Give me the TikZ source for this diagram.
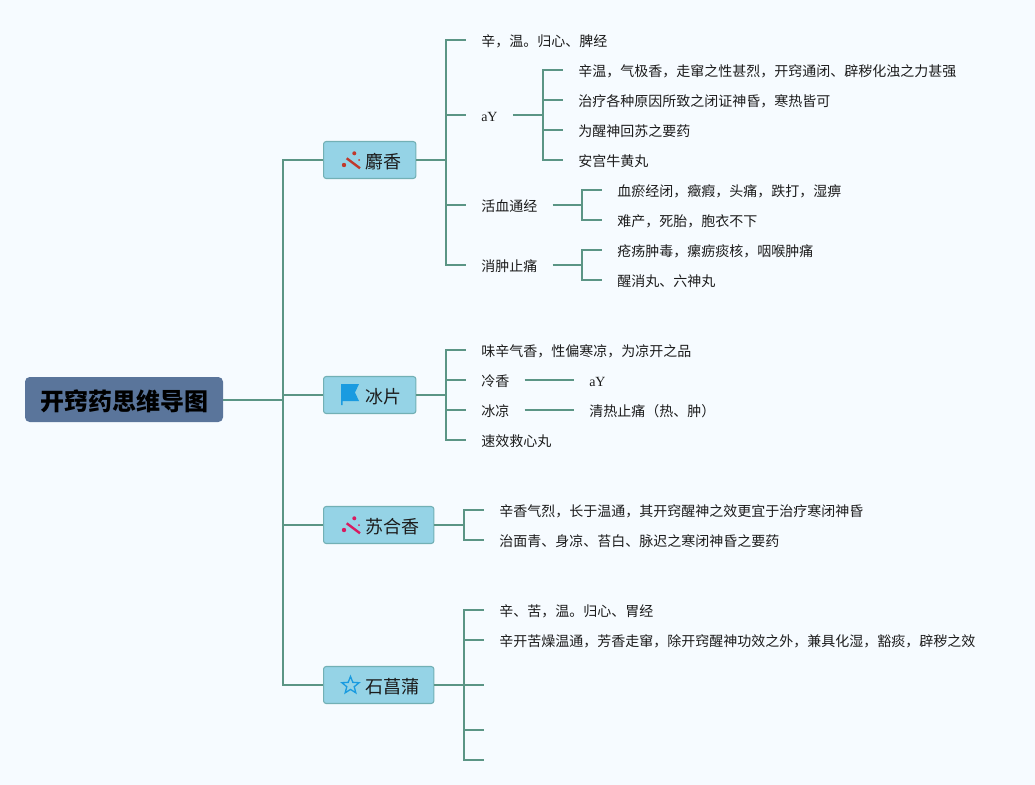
\documentclass[tikz,border=0pt]{standalone}
\usepackage{fontspec}
\setmainfont{Liberation Serif}
\newfontfamily\cjkfont{Noto Sans CJK SC}
\usetikzlibrary{shapes.geometric}
\definecolor{pagebg}{HTML}{F6FBFF}
\definecolor{linkgreen}{HTML}{5B9585}
\definecolor{rootfill}{HTML}{5A759B}
\definecolor{branchfill}{HTML}{95D3E6}
\definecolor{branchedge}{HTML}{72B0B5}
\definecolor{wandred}{HTML}{C0392B}
\definecolor{wandpink}{HTML}{D81B60}
\definecolor{iconblue}{HTML}{1A9BE0}
\definecolor{inkdark}{HTML}{1C1C1C}
\newcommand{\wandicon}[2]{%
  \begin{scope}[shift={(#1)}]
    \draw[#2, line width=1.8pt] (23.7,-1.7) -- (37,8.3);
    \fill[#2] (21,5) circle (2.2) (31.3,-6.7) circle (2) (36,0) circle (1);
  \end{scope}}
\begin{document}
\begin{tikzpicture}[
  x=0.75pt, y=-0.75pt,
  conn/.style={draw=linkgreen, line width=1.5pt},
  rootbox/.style={fill=rootfill, rounded corners=3.5pt, minimum width=148.5pt, minimum height=33.75pt, inner sep=0pt, text=black, text height=17pt, text depth=1pt, font=\cjkfont\bfseries\fontsize{18}{20}\selectfont},
  branchbox/.style={draw=branchedge, fill=branchfill, line width=0.8pt, rounded corners=2pt, anchor=west, minimum height=27.75pt, inner xsep=11pt, inner ysep=0pt, text=inkdark, text height=13pt, text depth=0.5pt, font=\cjkfont\fontsize{13.5}{16}\selectfont},
  leaf/.style={anchor=west, inner xsep=11.25pt, inner ysep=0pt, text=inkdark, text height=10.5pt, text depth=1.5pt, font=\cjkfont\fontsize{10.5}{12}\selectfont},
]
\fill[pagebg] (0,0) rectangle (1035,785);
\useasboundingbox (0,0) rectangle (1035,785);
% root and main branches
\node[rootbox] (root) at (124,399.5) {开窍药思维导图};
\node[branchbox] (shexiang) at (323,160) {\hspace*{20.25pt}麝香};
\node[branchbox] (bingpian) at (323,395) {\hspace*{20.25pt}冰片};
\node[branchbox] (suhe) at (323,525) {\hspace*{20.25pt}苏合香};
\node[branchbox] (changpu) at (323,685) {\hspace*{20.25pt}石菖蒲};
\coordinate (trunk) at (283,400);
\draw[conn] (root.east |- trunk) -- (trunk);
\foreach \b in {shexiang, bingpian, suhe, changpu} \draw[conn] (trunk) |- (\b.west);
% icons
\wandicon{323,160}{wandred}
\wandicon{323,525}{wandpink}
\fill[iconblue] (341,384) -- (359,384) -- (355,392.5) -- (359,401) -- (342.5,401) -- (342.5,405) -- (341,405) -- cycle;
\node[star, star points=5, star point ratio=2.3, draw=iconblue, line width=1pt, minimum size=13.5pt, inner sep=0pt] (staricon) at (350.5,685.5) {};
% shexiang
\node[leaf] (sx1) at (466,40) {辛，温。归心、脾经};
\node[leaf] (sx2) at (466,115) {\rmfamily aY};
\node[leaf] (sx3) at (466,205) {活血通经};
\node[leaf] (sx4) at (466,265) {消肿止痛};
\coordinate (sxs) at (445.5,160);
\draw[conn] (shexiang.east) -- (sxs);
\foreach \a in {sx1, sx2, sx3, sx4} \draw[conn] (sxs) |- (\a.west);
\node[leaf] (ay1) at (563,70) {辛温，气极香，走窜之性甚烈，开窍通闭、辟秽化浊之力甚强};
\node[leaf] (ay2) at (563,100) {治疗各种原因所致之闭证神昏，寒热皆可};
\node[leaf] (ay3) at (563,130) {为醒神回苏之要药};
\node[leaf] (ay4) at (563,160) {安宫牛黄丸};
\coordinate (ays) at (543,115);
\draw[conn] (sx2.east) -- (ays);
\foreach \a in {ay1, ay2, ay3, ay4} \draw[conn] (ays) |- (\a.west);
\node[leaf] (hx1) at (602,190) {血瘀经闭，癥瘕，头痛，跌打，湿痹};
\node[leaf] (hx2) at (602,220) {难产，死胎，胞衣不下};
\coordinate (hxs) at (582,205);
\draw[conn] (sx3.east) -- (hxs);
\foreach \a in {hx1, hx2} \draw[conn] (hxs) |- (\a.west);
\node[leaf] (xz1) at (602,250) {疮疡肿毒，瘰疬痰核，咽喉肿痛};
\node[leaf] (xz2) at (602,280) {醒消丸、六神丸};
\coordinate (xzs) at (582,265);
\draw[conn] (sx4.east) -- (xzs);
\foreach \a in {xz1, xz2} \draw[conn] (xzs) |- (\a.west);
% bingpian
\node[leaf] (bp1) at (466,350) {味辛气香，性偏寒凉，为凉开之品};
\node[leaf] (bp2) at (466,380) {冷香};
\node[leaf] (bp3) at (466,410) {冰凉};
\node[leaf] (bp4) at (466,440) {速效救心丸};
\coordinate (bps) at (446,395);
\draw[conn] (bingpian.east) -- (bps);
\foreach \a in {bp1, bp2, bp3, bp4} \draw[conn] (bps) |- (\a.west);
\node[leaf] (lx) at (574,380) {\rmfamily aY};
\node[leaf] (bl) at (574,410) {清热止痛（热、肿）};
\draw[conn] (bp2.east) -- (lx.west);
\draw[conn] (bp3.east) -- (bl.west);
% suhe
\node[leaf] (sh1) at (484,510) {辛香气烈，长于温通，其开窍醒神之效更宜于治疗寒闭神昏};
\node[leaf] (sh2) at (484,540) {治面青、身凉、苔白、脉迟之寒闭神昏之要药};
\coordinate (shs) at (464,525);
\draw[conn] (suhe.east) -- (shs);
\foreach \a in {sh1, sh2} \draw[conn] (shs) |- (\a.west);
% changpu
\node[leaf] (cp1) at (484,610) {辛、苦，温。归心、胃经};
\node[leaf] (cp2) at (484,640) {辛开苦燥温通，芳香走窜，除开窍醒神功效之外，兼具化湿，豁痰，辟秽之效};
\coordinate (cp3) at (484,685);
\coordinate (cp4) at (484,730);
\coordinate (cp5) at (484,760);
\coordinate (cps) at (464,685);
\draw[conn] (changpu.east) -- (cp3);
\foreach \a in {cp1.west, cp2.west, cp4, cp5} \draw[conn] (cps) |- (\a);
\end{tikzpicture}
\end{document}
